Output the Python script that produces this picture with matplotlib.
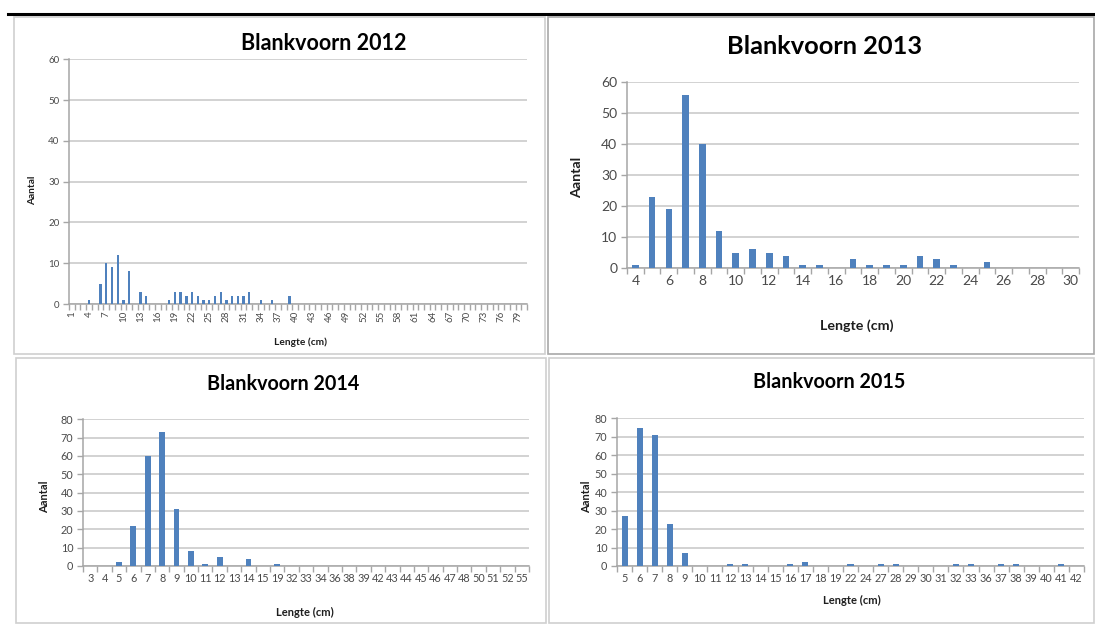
import matplotlib
matplotlib.use("Agg")
import matplotlib.pyplot as plt
from matplotlib.patches import Rectangle
from matplotlib.lines import Line2D

W, H = 1095, 626
plt.rcParams['font.family'] = ['Lato', 'DejaVu Sans']

BAR = '#4F81BD'
GRID = '#C6C6C6'
AXIS = '#A6A6A6'
TXT = '#4A4A4A'
LBL = '#1E1E1E'

# ---- length classes (cm) and catch counts per year ----
len_2012 = list(range(1, 81))
cnt_2012 = [0, 0, 0, 1, 0, 5, 10, 9, 12, 1,
            8, 0, 3, 2, 0, 0, 0, 1, 3, 3,
            2, 3, 2, 1, 1, 2, 3, 1, 2, 2,
            2, 3, 0, 1, 0, 1, 0, 0, 2, 0,
            0, 0, 0, 0, 0, 0, 0, 0, 0, 0,
            0, 0, 0, 0, 0, 0, 0, 0, 0, 0,
            0, 0, 0, 0, 0, 0, 0, 0, 0, 0,
            0, 0, 0, 0, 0, 0, 0, 0, 0, 0]

len_2013 = [4, 5, 6, 7, 8, 9, 10, 11, 12, 13, 14, 15, 16, 17, 18, 19, 20,
            21, 22, 23, 24, 25, 26, 27, 28, 29, 30]
cnt_2013 = [1, 23, 19, 56, 40, 12, 5, 6, 5, 4, 1, 1, 0, 3, 1, 1, 1,
            4, 3, 1, 0, 2, 0, 0, 0, 0, 0]

len_2014 = [3, 4, 5, 6, 7, 8, 9, 10, 11, 12, 13, 14, 15, 19, 32, 33, 34, 36,
            38, 39, 42, 43, 44, 45, 46, 47, 48, 50, 51, 52, 55]
cnt_2014 = [0, 0, 2, 22, 60, 73, 31, 8, 1, 5, 0, 4, 0, 1, 0, 0, 0, 0,
            0, 0, 0, 0, 0, 0, 0, 0, 0, 0, 0, 0, 0]

len_2015 = [5, 6, 7, 8, 9, 10, 11, 12, 13, 14, 15, 16, 17, 18, 19, 22, 24,
            27, 28, 29, 30, 31, 32, 33, 36, 37, 38, 39, 40, 41, 42]
cnt_2015 = [27, 75, 71, 23, 7, 0, 0, 1, 1, 0, 0, 1, 2, 0, 0, 1, 0,
            1, 1, 0, 0, 0, 1, 1, 0, 1, 1, 0, 0, 1, 0]

fig = plt.figure(figsize=(W / 100, H / 100), dpi=100)


def px_axes(l, t, r, b):
    return fig.add_axes([l / W, 1 - b / H, (r - l) / W, (b - t) / H])


def frame(l, t, r, b, color):
    fig.patches.append(Rectangle((l / W, 1 - b / H), (r - l) / W, (b - t) / H,
                                 transform=fig.transFigure, fill=False,
                                 edgecolor=color, lw=1.2))


def ftext(x, y, s, **kw):
    fig.text(x / W, 1 - y / H, s, ha='center', va='center', **kw)


def histo(ax, cats, vals, ymax, ystep, every, rot, fs):
    pos = list(range(len(cats)))
    ax.bar(pos, vals, width=0.4, color=BAR, zorder=3)
    ax.set_xlim(-0.5, len(cats) - 0.5)
    ax.set_ylim(0, ymax * 1.002)
    ax.set_yticks(list(range(0, ymax + 1, ystep)))
    ax.yaxis.grid(True, color=GRID, lw=1.1)
    ax.set_axisbelow(True)
    for s in ('top', 'right'):
        ax.spines[s].set_visible(False)
    for s in ('left', 'bottom'):
        ax.spines[s].set_color(AXIS)
        ax.spines[s].set_linewidth(1.1)
    shown = pos[::every]
    ax.set_xticks(shown)
    ax.set_xticklabels([str(cats[i]) for i in shown], rotation=rot)
    ax.set_xticks([p - 0.5 for p in range(len(cats) + 1)], minor=True)
    ax.tick_params(axis='x', which='major', length=0, labelsize=fs,
                   labelcolor=TXT, pad=5)
    ax.tick_params(axis='x', which='minor', length=4, color=AXIS, width=1)
    ax.tick_params(axis='y', length=4, color=AXIS, width=1, labelsize=fs,
                   labelcolor=TXT, pad=3)


# page rule and chart frames
fig.add_artist(Line2D([8 / W, 1.0], [1 - 14 / H, 1 - 14 / H],
                      transform=fig.transFigure, color='black', lw=2.2))
frame(14, 17, 545, 354, '#CFCFCF')
frame(548, 17, 1094, 354, '#A8A8A8')
frame(16, 358, 546, 623, '#CFCFCF')
frame(549, 358, 1094, 623, '#CFCFCF')

# 2012
ax = px_axes(69, 59, 527, 304)
histo(ax, len_2012, cnt_2012, 60, 10, 3, 90, 7)
ftext(324, 43, 'Blankvoorn 2012', fontsize=15.5, fontweight='bold')
ftext(300, 342, 'Lengte (cm)', fontsize=7.3, fontweight='bold', color=LBL)
ftext(33, 190, 'Aantal', fontsize=7.3, fontweight='bold', rotation=90, color=LBL)

# 2013
ax = px_axes(627, 82, 1079, 268)
histo(ax, len_2013, cnt_2013, 60, 10, 2, 0, 10)
ftext(825, 46, 'Blankvoorn 2013', fontsize=18.3, fontweight='bold')
ftext(857, 326, 'Lengte (cm)', fontsize=10.3, fontweight='bold', color=LBL)
ftext(577, 177, 'Aantal', fontsize=10.3, fontweight='bold', rotation=90, color=LBL)

# 2014
ax = px_axes(83, 419, 529, 566)
histo(ax, len_2014, cnt_2014, 80, 10, 1, 0, 7.8)
ftext(283, 384, 'Blankvoorn 2014', fontsize=14.2, fontweight='bold')
ftext(305, 612, 'Lengte (cm)', fontsize=8, fontweight='bold', color=LBL)
ftext(45, 497, 'Aantal', fontsize=8, fontweight='bold', rotation=90, color=LBL)

# 2015
ax = px_axes(617, 418, 1084, 566)
histo(ax, len_2015, cnt_2015, 80, 10, 1, 0, 7.8)
ftext(829, 382, 'Blankvoorn 2015', fontsize=14.2, fontweight='bold')
ftext(852, 600, 'Lengte (cm)', fontsize=8, fontweight='bold', color=LBL)
ftext(587, 497, 'Aantal', fontsize=8, fontweight='bold', rotation=90, color=LBL)

fig.savefig('out.png', dpi=100, facecolor='white')
